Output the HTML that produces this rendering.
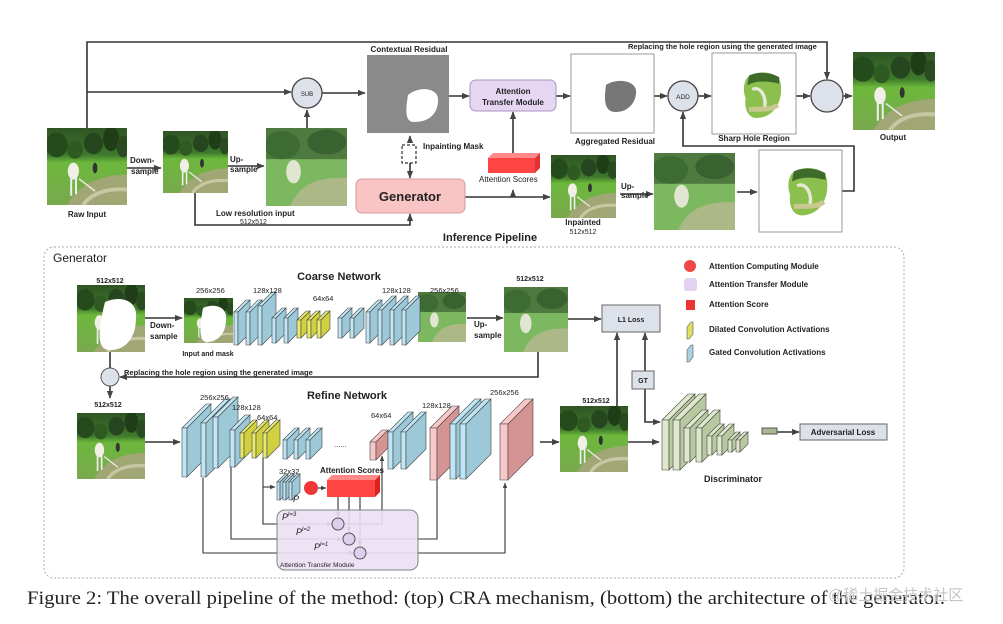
<!DOCTYPE html>
<html><head><meta charset="utf-8"><style>
html,body{margin:0;padding:0;background:#fff}
svg{display:block}
text{font-family:"Liberation Sans","DejaVu Sans",sans-serif;fill:#222}
.b{font-weight:bold}
</style></head><body>
<svg id="s" width="1003" height="624" viewBox="0 0 1003 624" xmlns="http://www.w3.org/2000/svg">
<defs>
<marker id="a" viewBox="0 0 10 10" refX="9" refY="5" markerWidth="5" markerHeight="5" orient="auto"><path d="M0,1 L10,5 L0,9z" fill="#444"/></marker>
<linearGradient id="gg" x1="0" y1="0" x2="0" y2="1"><stop offset="0" stop-color="#2f5424"/><stop offset="0.35" stop-color="#3f7a2c"/><stop offset="0.45" stop-color="#6cb83c"/><stop offset="1" stop-color="#7aa84e"/></linearGradient>
<symbol id="ph" viewBox="0 0 100 100" preserveAspectRatio="none">
<rect width="100" height="100" fill="url(#gg)"/>
<ellipse cx="12" cy="22" rx="14" ry="16" fill="#254a1c"/><ellipse cx="35" cy="28" rx="10" ry="12" fill="#2f5a22"/><ellipse cx="58" cy="20" rx="12" ry="14" fill="#264620"/><ellipse cx="80" cy="14" rx="10" ry="16" fill="#1f3e18"/><ellipse cx="95" cy="24" rx="8" ry="14" fill="#2a4a20"/>
<path d="M25,100 C40,75 60,62 100,60 L100,100z" fill="#a8a67c" opacity="0.85"/>
<path d="M45,100 C55,85 75,78 100,80" stroke="#d8d4b8" stroke-width="5" fill="none" opacity="0.7"/>
<ellipse cx="33" cy="56" rx="7" ry="11" fill="#f2efe6"/><rect x="29" y="60" width="2.5" height="28" fill="#eee"/><rect x="35" y="60" width="2.5" height="26" fill="#eee"/>
<path d="M40,66 L60,82" stroke="#e8e8e0" stroke-width="2"/>
<ellipse cx="60" cy="52" rx="3" ry="7" fill="#333"/>
</symbol>
<symbol id="phb" viewBox="0 0 100 100" preserveAspectRatio="none">
<rect width="100" height="100" fill="#7cb860"/>
<rect width="100" height="40" fill="#4e7a40"/>
<ellipse cx="20" cy="22" rx="22" ry="18" fill="#3e6a34"/><ellipse cx="75" cy="18" rx="24" ry="16" fill="#3a6230"/>
<path d="M30,100 C40,75 60,62 100,64 L100,100z" fill="#b8b890" opacity="0.8"/>
<ellipse cx="34" cy="56" rx="9" ry="15" fill="#ecebe0" opacity="0.9"/>
</symbol>
<symbol id="hole" viewBox="0 0 100 100" preserveAspectRatio="none">
<path d="M45,28 C60,20 82,24 82,40 C84,60 74,78 56,80 C44,82 38,70 40,56 C36,45 38,32 45,28z" fill="#8cc04e"/>
<path d="M44,28 C55,22 70,24 80,30 L80,38 C65,34 52,34 42,40z" fill="#3e6a2a"/>
<path d="M48,45 C58,40 66,55 62,70" stroke="#e8e8d8" stroke-width="4" fill="none"/>
<path d="M44,70 C55,68 70,72 78,64" stroke="#c8c890" stroke-width="6" fill="none"/>
</symbol>
</defs>
<g fill="none" stroke="#333" stroke-width="1.6">
<polyline points="87,143 87,42 827,42 827,79" marker-end="url(#a)"/>
<line x1="87" y1="92" x2="291" y2="92" marker-end="url(#a)"/>
<line x1="307" y1="128" x2="307" y2="110" marker-end="url(#a)"/>
<line x1="322" y1="93" x2="365" y2="93" marker-end="url(#a)"/>
<line x1="127" y1="168" x2="161" y2="168" marker-end="url(#a)"/>
<line x1="228" y1="166" x2="264" y2="166" marker-end="url(#a)"/>
<polyline points="195,193 195,225 410,225 410,214" marker-end="url(#a)"/>
<line x1="449" y1="96" x2="469" y2="96" marker-end="url(#a)"/>
<line x1="410" y1="143" x2="410" y2="136" marker-end="url(#a)"/>
<line x1="410" y1="163" x2="410" y2="178" marker-end="url(#a)"/>
<line x1="513" y1="153" x2="513" y2="112" marker-end="url(#a)"/>
<line x1="465" y1="197" x2="550" y2="197" marker-end="url(#a)"/>
<line x1="513" y1="197" x2="513" y2="190" marker-end="url(#a)"/>
<line x1="620" y1="194" x2="653" y2="194" marker-end="url(#a)"/>
<line x1="737" y1="192" x2="757" y2="192" marker-end="url(#a)"/>
<polyline points="842,191 854,191 854,146 683,146 683,112" marker-end="url(#a)"/>
<line x1="556" y1="96" x2="570" y2="96" marker-end="url(#a)"/>
<line x1="654" y1="96" x2="667" y2="96" marker-end="url(#a)"/>
<line x1="698" y1="96" x2="711" y2="96" marker-end="url(#a)"/>
<line x1="796" y1="96" x2="810" y2="96" marker-end="url(#a)"/>
<line x1="843" y1="96" x2="852" y2="96" marker-end="url(#a)"/>
<line x1="145" y1="318" x2="182" y2="318" marker-end="url(#a)"/>
<line x1="467" y1="318" x2="503" y2="318" marker-end="url(#a)"/>
<polyline points="538,352 538,377 120,377" marker-end="url(#a)"/>
<line x1="110" y1="352" x2="110" y2="368"/>
<line x1="110" y1="386" x2="110" y2="398" marker-end="url(#a)"/>
<line x1="145" y1="442" x2="180" y2="442" marker-end="url(#a)"/>
<line x1="540" y1="442" x2="559" y2="442" marker-end="url(#a)"/>
<line x1="617" y1="406" x2="617" y2="333" marker-end="url(#a)"/>
<line x1="645" y1="371" x2="645" y2="333" marker-end="url(#a)"/>
<polyline points="645,389 645,422 660,422" marker-end="url(#a)"/>
<line x1="568" y1="319" x2="601" y2="319" marker-end="url(#a)"/>
<line x1="628" y1="442" x2="659" y2="442" marker-end="url(#a)"/>
<line x1="777" y1="432" x2="799" y2="432" marker-end="url(#a)"/>
<g stroke-width="1.1">
<polyline points="203,478 203,553 354,553" marker-end="url(#a)"/>
<polyline points="366,553 505,553 505,483" marker-end="url(#a)"/>
<polyline points="231,467 231,539 342,539" marker-end="url(#a)"/>
<polyline points="354,539 437,539 437,472" marker-end="url(#a)"/>
<polyline points="263,458 263,524 332,524" marker-end="url(#a)"/>
<polyline points="344,524 382,524 382,456" marker-end="url(#a)"/>
<polyline points="263,487 275,487" marker-end="url(#a)"/>
<line x1="318" y1="488" x2="326" y2="488" marker-end="url(#a)"/>
<line x1="338" y1="497" x2="338" y2="517" marker-end="url(#a)"/>
<line x1="349" y1="497" x2="349" y2="532" marker-end="url(#a)"/>
<line x1="360" y1="497" x2="360" y2="546" marker-end="url(#a)"/>
</g>
</g>
<rect x="44" y="247" width="860" height="331" rx="10" fill="none" stroke="#aaa" stroke-dasharray="2,2"/>
<rect x="277" y="510" width="141" height="60" rx="8" fill="#ece0f4" stroke="#777" opacity="0.9"/>
<g fill="#ddd0ee" stroke="#555" stroke-width="1"><circle cx="338" cy="524" r="6"/><circle cx="349" cy="539" r="6"/><circle cx="360" cy="553" r="6"/></g>
<use href="#ph" x="47" y="128" width="80" height="77"/>
<use href="#ph" x="163" y="131" width="65" height="62"/>
<use href="#phb" x="266" y="128" width="81" height="78"/>
<rect x="367" y="55" width="82" height="78" fill="#8a8a8a"/>
<path d="M408,95 C420,85 440,88 438,102 C437,115 428,122 414,122 C404,122 406,108 408,95z" fill="#fff"/>
<rect x="470" y="80" width="86" height="31" rx="6" fill="#e6d6f2" stroke="#a894c2"/>
<rect x="571" y="54" width="83" height="79" fill="#fff" stroke="#999"/>
<path d="M606,85 C616,78 634,80 636,90 C637,102 628,112 616,112 C604,112 604,100 606,85z" fill="#777"/>
<circle cx="307" cy="93" r="15" fill="#dde1ea" stroke="#444" stroke-width="1.3"/>
<circle cx="683" cy="96" r="15" fill="#dde1ea" stroke="#444" stroke-width="1.3"/>
<circle cx="827" cy="96" r="16" fill="#dde1ea" stroke="#444" stroke-width="1.3"/>
<rect x="712" y="53" width="84" height="81" fill="#fff" stroke="#999"/>
<use href="#hole" x="712" y="53" width="84" height="81"/>
<use href="#ph" x="853" y="52" width="82" height="78"/>
<rect x="402" y="145" width="14" height="18" fill="#fff" stroke="#000" stroke-dasharray="3,2"/>
<rect x="356" y="179" width="109" height="34" rx="6" fill="#f8c4c4" stroke="#d49a9a"/>
<polygon points="488,158 493,153 540,153 535,158" fill="#f88"/><polygon points="535,158 540,153 540,168 535,173" fill="#d33"/><rect x="488" y="158" width="47" height="15" fill="#f44"/>
<use href="#ph" x="551" y="155" width="65" height="63"/>
<use href="#phb" x="654" y="153" width="81" height="77"/>
<rect x="759" y="150" width="83" height="82" fill="#fff" stroke="#999"/>
<use href="#hole" x="755" y="148" width="88" height="84"/>
<use href="#ph" x="77" y="285" width="68" height="67"/>
<path d="M105,302 C120,295 138,300 136,318 C136,335 128,350 110,350 C96,350 98,330 105,302z" fill="#fff"/>
<use href="#ph" x="184" y="298" width="49" height="45"/>
<path d="M203,308 C213,303 228,306 226,320 C226,333 218,342 207,342 C198,342 200,325 203,308z" fill="#fff"/>
<use href="#phb" x="418" y="292" width="48" height="50"/>
<use href="#phb" x="504" y="287" width="64" height="65"/>
<circle cx="110" cy="377" r="9" fill="#dde1ea" stroke="#555"/>
<use href="#ph" x="77" y="413" width="68" height="66"/>
<use href="#ph" x="560" y="406" width="68" height="66"/>
<rect x="602" y="305" width="58" height="27" fill="#dde1ea" stroke="#666"/>
<rect x="632" y="371" width="22" height="18" fill="#dde1ea" stroke="#666"/>
<rect x="800" y="424" width="87" height="16" fill="#dde1ea" stroke="#666"/>
<rect x="762" y="428" width="15" height="6" fill="#a8b890" stroke="#555"/>
<circle cx="311" cy="488" r="7" fill="#f03838"/>
<polygon points="327,480 332,475 380,475 375,480" fill="#f88"/><polygon points="375,480 380,475 380,492 375,497" fill="#d22"/><rect x="327" y="480" width="48" height="17" fill="#f44"/>
<circle cx="690" cy="266" r="6" fill="#f04848"/>
<rect x="684" y="278" width="13" height="13" rx="3" fill="#e2d2f0"/>
<rect x="686" y="300" width="9" height="10" fill="#e33"/>
<polygon points="687,327 691,322 693,322 693,334 689,339 687,339" fill="#dde060" stroke="#555" stroke-width="0.6"/>
<polygon points="687,350 691,345 693,345 693,357 689,362 687,362" fill="#a8d0e0" stroke="#555" stroke-width="0.6"/>
<g id="slabs"></g>
<g font-size="8" class="b">
<text x="628" y="49" font-size="7.5">Replacing the hole region using the generated image</text>
<text x="409" y="52" text-anchor="middle">Contextual Residual</text>
<text x="513" y="94" text-anchor="middle">Attention</text>
<text x="513" y="105" text-anchor="middle">Transfer Module</text>
<text x="307" y="96" text-anchor="middle" font-size="6" font-weight="normal">SUB</text>
<text x="683" y="99" text-anchor="middle" font-size="6.5" font-weight="normal">ADD</text>
<text x="615" y="144" text-anchor="middle">Aggregated Residual</text>
<text x="754" y="141" text-anchor="middle">Sharp Hole Region</text>
<text x="893" y="140" text-anchor="middle">Output</text>
<text x="87" y="217" text-anchor="middle">Raw Input</text>
<text x="130" y="163">Down-</text><text x="131" y="174">sample</text>
<text x="230" y="162">Up-</text><text x="230" y="172">sample</text>
<text x="216" y="216">Low resolution input</text>
<text x="240" y="224" font-weight="normal" font-size="7">512x512</text>
<text x="423" y="149">Inpainting Mask</text>
<text x="410" y="201" text-anchor="middle" font-size="13">Generator</text>
<text x="479" y="182" font-weight="normal">Attention Scores</text>
<text x="621" y="189">Up-</text><text x="621" y="198">sample</text>
<text x="583" y="225" text-anchor="middle">Inpainted</text>
<text x="583" y="234" text-anchor="middle" font-weight="normal" font-size="7">512x512</text>
<text x="490" y="241" text-anchor="middle" font-size="11">Inference Pipeline</text>
<text x="53" y="262" font-size="12" font-weight="normal">Generator</text>
<text x="110" y="283" text-anchor="middle" font-size="7">512x512</text>
<text x="339" y="280" text-anchor="middle" font-size="11">Coarse Network</text>
<text x="150" y="328">Down-</text><text x="150" y="339">sample</text>
<text x="208" y="356" text-anchor="middle" font-size="7">Input and mask</text>
<text x="474" y="327">Up-</text><text x="474" y="338">sample</text>
<text x="530" y="281" text-anchor="middle" font-size="7">512x512</text>
<text x="124" y="375" font-size="7.5">Replacing the hole region using the generated image</text>
<text x="108" y="407" text-anchor="middle" font-size="7">512x512</text>
<text x="347" y="399" text-anchor="middle" font-size="11">Refine Network</text>
<text x="596" y="403" text-anchor="middle" font-size="7">512x512</text>
<text x="631" y="322" text-anchor="middle" font-size="7">L1 Loss</text>
<text x="643" y="383" text-anchor="middle" font-size="7">GT</text>
<text x="843" y="435" text-anchor="middle" font-size="8">Adversarial Loss</text>
<text x="733" y="482" text-anchor="middle" font-size="9">Discriminator</text>
<text x="709" y="269">Attention Computing Module</text>
<text x="709" y="287">Attention Transfer Module</text>
<text x="709" y="307">Attention Score</text>
<text x="709" y="332">Dilated Convolution Activations</text>
<text x="709" y="355">Gated Convolution Activations</text>
<text x="320" y="473">Attention Scores</text>
</g>
<g font-size="7.5" fill="#555">
<text x="196" y="293">256x256</text><text x="253" y="293">128x128</text><text x="313" y="301">64x64</text><text x="382" y="293">128x128</text><text x="430" y="293">256x256</text>
<text x="200" y="400">256x256</text><text x="232" y="410">128x128</text><text x="257" y="420">64x64</text>
<text x="371" y="418">64x64</text><text x="422" y="408">128x128</text><text x="490" y="395">256x256</text>
<text x="279" y="474">32x32</text>
<text x="334" y="447">......</text>
<text x="280" y="567" font-size="6.5">Attention Transfer Module</text>
</g>
<g font-family="Liberation Serif,serif" font-style="italic" font-size="9" fill="#222">
<text x="293" y="502">P</text>
<text x="282" y="520">P<tspan font-size="6" dy="-4">l=3</tspan></text>
<text x="296" y="535">P<tspan font-size="6" dy="-4">l=2</tspan></text>
<text x="314" y="550">P<tspan font-size="6" dy="-4">l=1</tspan></text>
</g>
<text x="27" y="604" font-size="19" textLength="918" lengthAdjust="spacingAndGlyphs" style="font-family:'Liberation Serif',serif">Figure 2: The overall pipeline of the method: (top) CRA mechanism, (bottom) the architecture of the generator.</text>
<text x="828" y="600" font-size="15" style="fill:#c4c4c4;font-family:'Liberation Sans','Noto Sans CJK SC',sans-serif">@稀土掘金技术社区</text>
</svg>
<script>
var g=document.getElementById('slabs'),NS='http://www.w3.org/2000/svg';
function P(pts,f){var p=document.createElementNS(NS,'polygon');p.setAttribute('points',pts);p.setAttribute('fill',f);p.setAttribute('stroke','#444');p.setAttribute('stroke-width','0.6');g.appendChild(p);}
var C={b:['#bfe6f4','#9cc8d8'],y:['#e8ea70','#d0d040'],r:['#f8c8c8','#d49494'],g:['#dfe8cc','#b8c8a0']};
function S(x,y1,y2,d,c,w){w=w||4;var k=C[c];
P(x+','+y1+' '+(x+d)+','+(y1-d)+' '+(x+d+w)+','+(y1-d)+' '+(x+w)+','+y1,k[0]);
P(x+','+y1+' '+(x+w)+','+y1+' '+(x+w)+','+y2+' '+x+','+y2,k[0]);
P((x+w)+','+y1+' '+(x+w+d)+','+(y1-d)+' '+(x+w+d)+','+(y2-d)+' '+(x+w)+','+y2,k[1]);}
[[234,312,345,12],[246,312,345,12],[258,306,345,14],[272,318,343,10],[284,318,343,10]].forEach(function(a){S(a[0],a[1],a[2],a[3],'b')});
[[297,320,338,9],[307,320,338,9],[317,320,338,9]].forEach(function(a){S(a[0],a[1],a[2],a[3],'y')});
[[338,318,338,10],[350,318,338,10],[366,312,343,12],[378,310,345,14],[390,310,345,14],[402,310,345,14]].forEach(function(a){S(a[0],a[1],a[2],a[3],'b')});
[[182,428,477,24],[201,423,477,24],[213,417,468,20],[230,430,467,15]].forEach(function(a){S(a[0],a[1],a[2],a[3],'b',5)});
[[240,433,458,13],[252,433,458,13],[263,433,458,13]].forEach(function(a){S(a[0],a[1],a[2],a[3],'y')});
[[283,440,459,12],[294,440,459,12],[306,440,459,12]].forEach(function(a){S(a[0],a[1],a[2],a[3],'b')});
S(370,442,460,12,'r',6);
[[388,432,469,20],[401,432,469,20]].forEach(function(a){S(a[0],a[1],a[2],a[3],'b',5)});
S(430,428,480,22,'r',7);
[[450,424,479,25],[460,424,479,25]].forEach(function(a){S(a[0],a[1],a[2],a[3],'b',6)});
S(500,424,480,25,'r',8);
[[277,482,500,8],[283,482,500,8],[289,482,500,8]].forEach(function(a){S(a[0],a[1],a[2],a[3],'b',3)});
[[662,420,470,26,7],[673,420,470,26,7],[684,428,462,18,6],[696,428,462,18,6],[707,436,455,12,5],[717,436,455,12,5],[728,440,452,8,4],[736,440,452,8,4]].forEach(function(a){S(a[0],a[1],a[2],a[3],'g',a[4])});
</script>
</body></html>
